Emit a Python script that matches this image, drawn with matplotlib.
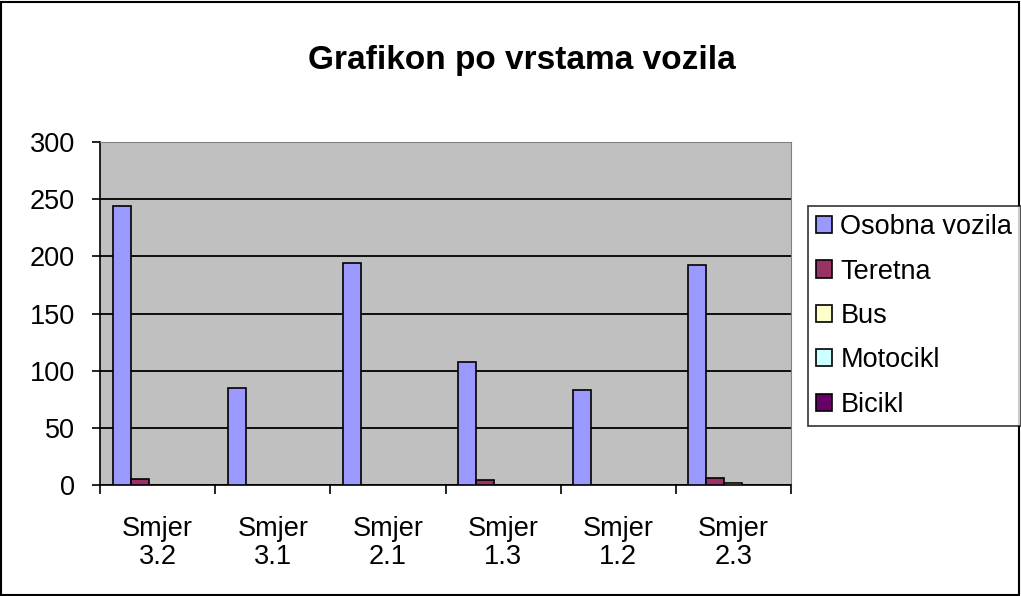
import numpy as np
import matplotlib.pyplot as plt
from matplotlib.patches import Rectangle

plt.rcParams['font.family'] = ['Liberation Sans', 'DejaVu Sans']

smjerovi = ["Smjer\n3.2", "Smjer\n3.1", "Smjer\n2.1", "Smjer\n1.3", "Smjer\n1.2", "Smjer\n2.3"]
osobna = [244, 85, 194, 108, 83, 192]
teretna = [5, 0, 0, 4, 0, 6]
bus = [0, 0, 0, 0, 0, 2]
motocikl = [0, 0, 0, 0, 0, 0]
bicikl = [0, 0, 0, 0, 0, 0]

serije = ["Osobna vozila", "Teretna", "Bus", "Motocikl", "Bicikl"]
boje = ["#9999FF", "#993366", "#FFFFCC", "#CCFFFF", "#660066"]
vrijednosti = [osobna, teretna, bus, motocikl, bicikl]

fig = plt.figure(figsize=(10.21, 5.96), dpi=100)
ax = fig.add_axes([100/1021, 1 - 485/596, 691/1021, 343/596])
ax.set_facecolor("#C0C0C0")

x = np.arange(len(smjerovi))
w = 18/115
for i, (s, b, v) in enumerate(zip(serije, boje, vrijednosti)):
    ax.bar(x - 2*w + i*w, v, width=w, color=b, edgecolor="black", linewidth=1.2,
           label=s, zorder=3)

ax.set_xlim(-0.5, len(smjerovi) - 0.5)
ax.set_ylim(0, 300)
ax.set_yticks(range(0, 301, 50))
ax.yaxis.grid(True, color="black", linewidth=1.3, zorder=1)
ax.set_axisbelow(True)

ax.set_xticks(np.arange(-0.5, len(smjerovi), 1))
ax.set_xticklabels([])
ax.set_xticks(x, minor=True)
ax.set_xticklabels(smjerovi, minor=True, fontsize=19.5, linespacing=1.1)
ax.tick_params(axis="x", which="minor", length=0, pad=22)
ax.tick_params(axis="x", which="major", length=6.5, width=1.2, direction="out")
ax.tick_params(axis="y", length=6, width=1.2, direction="out", labelsize=19.5, pad=12)

for side in ["top", "right"]:
    ax.spines[side].set_color("#808080")
ax.spines["left"].set_color("black")
ax.spines["bottom"].set_color("black")
ax.spines["left"].set_linewidth(1.2)
ax.spines["bottom"].set_linewidth(1.2)

fig.text(522/1021, 1 - 60/596, "Grafikon po vrstama vozila", ha="center", va="center",
         fontsize=24, fontweight="bold")

leg = fig.legend(loc="upper left", bbox_to_anchor=(808/1021, 1 - 206/596),
                 fontsize=19.5, frameon=True, fancybox=False, edgecolor="black",
                 handlelength=0.6, handleheight=0.6, handletextpad=0.3,
                 labelspacing=0.68, borderpad=0.3, borderaxespad=0)
leg.get_frame().set_linewidth(1.2)

fig.patches.append(Rectangle((1/1021, 1/596), 1018/1021, 1 - 3/596, transform=fig.transFigure,
                             fill=False, edgecolor="black", linewidth=1.5))

fig.savefig("out.png", dpi=100)
